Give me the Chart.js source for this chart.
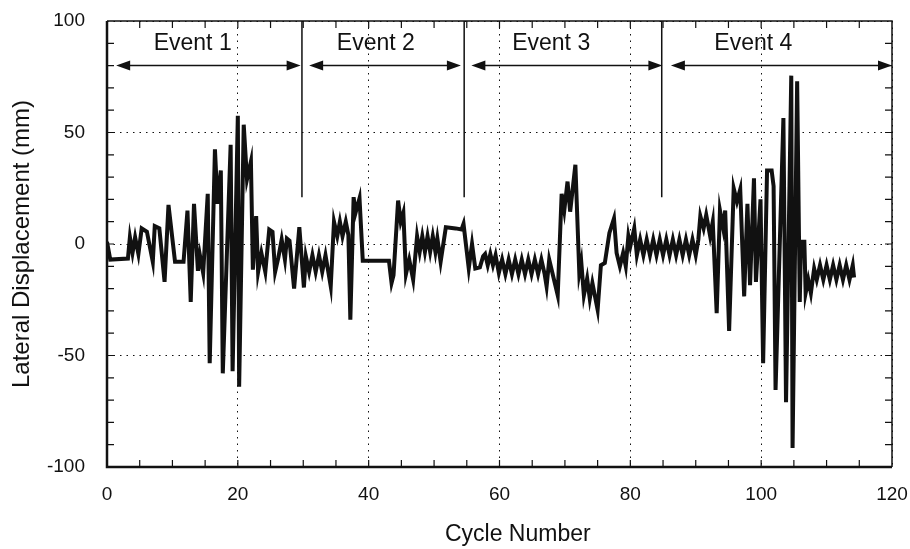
<!DOCTYPE html>
<html>
<head>
<meta charset="utf-8">
<script src="https://cdn.jsdelivr.net/npm/chart.js@4.4.1/dist/chart.umd.min.js"></script>
<style>
  html, body { margin: 0; padding: 0; background: #ffffff; }
  #wrap { width: 910px; height: 549px; position: relative; }
</style>
</head>
<body>
<div id="wrap"><canvas id="chart" width="910" height="549"></canvas></div>
<script>
// Lateral displacement history (cycle number, mm)
const cycleNumber = [
  0, 0.5, 3.2, 3.5, 3.9, 4.3, 4.8, 5.3, 6.1, 7.0, 7.3, 8.0, 8.8, 9.4, 10.4, 11.7, 12.3, 12.8, 13.3, 13.9,
  14.2, 14.7, 15.4, 15.7, 16.5, 16.9, 17.4, 17.7, 18.9, 19.2, 20.0, 20.2, 20.9, 21.4, 22.0, 22.3, 22.8, 23.1, 23.6, 24.2,
  24.8, 25.3, 25.7, 26.2, 26.7, 27.2, 27.5, 27.9, 28.6, 29.4,
  30.1, 30.4, 30.9, 31.4, 31.9, 32.4, 32.9, 33.4, 33.8, 34.2, 34.7, 35.2, 35.6, 36.0, 36.5, 36.9, 37.2, 37.7, 38.0, 38.6,
  39.1, 43.1, 43.5, 43.8, 44.5, 44.9, 45.3, 45.7, 46.2, 46.8, 47.4, 47.8, 48.2, 48.6, 49.0, 49.4, 49.8, 50.2, 50.5, 51.0,
  51.8, 53.3, 54.2, 54.5, 55.0, 55.3, 55.8, 56.3, 57.0,
  57.5, 57.8, 58.2, 58.6, 59.0, 59.4, 59.9, 60.4, 60.9, 61.4, 61.9, 62.4, 62.9, 63.4, 63.9, 64.4, 64.9, 65.4, 65.9, 66.4,
  66.9, 67.2, 67.6, 68.9, 69.5, 69.9, 70.4, 70.8, 71.6, 72.2, 72.5, 72.9, 73.4, 73.8, 74.2, 75.0, 75.5, 76.1, 76.8, 77.5,
  77.9, 78.4, 78.9, 79.3, 79.7, 80.0, 80.6, 81.0, 81.5, 82.0, 82.5, 83.0, 83.5, 84.0, 84.5, 85.0, 85.5, 86.0, 86.5, 87.0,
  87.5, 88.0, 88.5, 89.0, 89.5, 90.0,
  90.4, 90.7, 91.2, 91.6, 92.2, 92.6, 93.2, 93.7, 94.2, 94.5, 95.1, 95.8, 96.3, 96.8, 97.4, 97.9, 98.3, 98.9, 99.2, 99.9,
  100.3, 100.9, 101.6, 101.9, 102.2, 103.4, 103.8, 104.6, 104.8, 105.5, 105.9, 106.1, 106.6, 106.8, 107.2, 107.6, 108.1, 108.5, 109.0, 109.5,
  110.0, 110.5, 111.0, 111.5, 112.0, 112.5, 113.0, 113.5, 114.0, 114.2
];
const lateralDisp = [
  1, -7, -6.5, 3, -4, 3, -4.5, 7, 5.5, -8, 8, 7, -17, 17.5, -8, -8, 15, -26, 18, -12,
  -5, -13, 22.5, -53.5, 42.5, 18, 33, -58, 44.5, -57, 57.5, -64, 53.5, 29, 37, -11.5, 12.5, -12.5, -4, -12.5,
  6.5, 5.5, -12.5, -6, 2, -7, 2.5, 1.5, -20, 7.5,
  -19.5, -5.5, -12.5, -5, -12.5, -5, -12.5, -5, -12, -19, 10, 3.5, 10, 3.5, 10, 4, -34, 21, 14, 20.5,
  -7.5, -7.5, -17.5, -14, 19.5, 10, 14, -13.5, -7, -16, 3.5, -3.5, 3.5, -3.5, 3.5, -3.5, 3.5, -3.5, 2.5, -8,
  7.5, 7, 6.5, 9, -3.5, -11, 0, -11, -10.5,
  -5.5, -4.5, -9.5, -4.5, -9.5, -5, -13, -7, -13.5, -7, -13.5, -7, -13.5, -7, -13.5, -7, -13.5, -7, -13.5, -7,
  -13.5, -19, -7, -23, 22.5, 15, 28, 14.5, 35.5, -13, -8, -23, -15.5, -24.5, -17.5, -29.5, -9.5, -8.5, 5, 11.5,
  -4, -10, -4, -10, 3.5, -1, 7, -5, 2, -5, 2, -5, 2, -5, 2, -5, 2, -5, 2, -5,
  2, -5, 2, -5, 2, -5,
  2, 12.5, 7, 13, 3.5, 10, -31, 15, 7, 15, -39, 25, 19, 24.5, -23.5, 18, -18.5, 29.5, -17, 20,
  -53.5, 33, 33, 26, -65.5, 56.5, -71, 75.5, -91.5, 73, -26, 1, 1, -22, -16, -22, -11, -16, -9.5, -16,
  -9.5, -16, -9.5, -16, -9.5, -16, -9.5, -16, -9.5, -15
];

// Event annotations (cycle number units)
const eventLabels = ['Event 1', 'Event 2', 'Event 3', 'Event 4'];
const eventLabelX = [13.1, 41.1, 67.9, 98.8];
const eventArrowFrom = [1.4, 30.9, 55.7, 86.2];
const eventArrowTo = [29.6, 54.1, 84.9, 120];
const eventBounds = [29.8, 54.6, 84.8];
const boundBottom = 21;     // mm, lower end of separator lines
const arrowLevel = 80;      // mm
const labelLevel = 90;      // mm
const xTitleCentre = 62.8;  // x title sits a bit right of the middle in the original

const xTickLabels = [0, 20, 40, 60, 80, 100, 120];
const yTickLabels = [-100, -50, 0, 50, 100];

const FONT = "'Liberation Sans', Arial, sans-serif";
const INK = '#111111';

const points = cycleNumber.map((c, i) => ({ x: c, y: lateralDisp[i] }));

// frame, minor ticks, event markers, x title
const overlay = {
  id: 'overlay',
  afterDatasetsDraw(chart) {
    const { ctx, chartArea: a, scales: { x, y } } = chart;
    ctx.save();
    ctx.strokeStyle = INK;
    ctx.fillStyle = INK;

    // minor ticks, pointing inward
    ctx.lineWidth = 1.2;
    ctx.beginPath();
    for (let v = 5; v < 120; v += 5) {
      const px = x.getPixelForValue(v);
      ctx.moveTo(px, a.bottom); ctx.lineTo(px, a.bottom - 7);
      ctx.moveTo(px, a.top); ctx.lineTo(px, a.top + 7);
    }
    for (let v = -90; v < 100; v += 10) {
      const py = y.getPixelForValue(v);
      ctx.moveTo(a.left, py); ctx.lineTo(a.left + 7, py);
      ctx.moveTo(a.right, py); ctx.lineTo(a.right - 7, py);
    }
    ctx.stroke();

    // frame
    ctx.lineWidth = 1.5;
    ctx.beginPath();
    ctx.moveTo(a.left, a.top); ctx.lineTo(a.right, a.top); ctx.lineTo(a.right, a.bottom);
    ctx.stroke();
    ctx.lineWidth = 2.5;
    ctx.beginPath();
    ctx.moveTo(a.left, a.top); ctx.lineTo(a.left, a.bottom); ctx.lineTo(a.right, a.bottom);
    ctx.stroke();

    // separators between events
    ctx.lineWidth = 1.5;
    ctx.beginPath();
    eventBounds.forEach(b => {
      const px = x.getPixelForValue(b);
      ctx.moveTo(px, y.getPixelForValue(100));
      ctx.lineTo(px, y.getPixelForValue(boundBottom));
    });
    ctx.stroke();

    // double-headed arrows
    const ay = y.getPixelForValue(arrowLevel);
    const head = 14, half = 5;
    eventArrowFrom.forEach((f, i) => {
      const x1 = x.getPixelForValue(f);
      const x2 = x.getPixelForValue(eventArrowTo[i]);
      ctx.lineWidth = 1.5;
      ctx.beginPath();
      ctx.moveTo(x1 + head - 2, ay); ctx.lineTo(x2 - head + 2, ay);
      ctx.stroke();
      ctx.beginPath();
      ctx.moveTo(x1, ay); ctx.lineTo(x1 + head, ay - half); ctx.lineTo(x1 + head, ay + half);
      ctx.closePath();
      ctx.moveTo(x2, ay); ctx.lineTo(x2 - head, ay - half); ctx.lineTo(x2 - head, ay + half);
      ctx.closePath();
      ctx.fill();
    });

    // labels
    ctx.font = '23px ' + FONT;
    ctx.textAlign = 'center';
    ctx.textBaseline = 'middle';
    eventLabels.forEach((t, i) => {
      ctx.fillText(t, x.getPixelForValue(eventLabelX[i]), y.getPixelForValue(labelLevel));
    });

    // x axis title
    ctx.fillText('Cycle Number', x.getPixelForValue(xTitleCentre), chart.height - 14);
    ctx.restore();
  }
};

new Chart(document.getElementById('chart'), {
  type: 'line',
  data: {
    datasets: [{
      data: points,
      borderColor: INK,
      borderWidth: 4,
      pointRadius: 0,
      tension: 0,
      fill: false
    }]
  },
  options: {
    responsive: false,
    animation: false,
    events: [],
    layout: { padding: { left: 0, right: 18, top: 21, bottom: 0 } },
    plugins: { legend: { display: false }, tooltip: { enabled: false } },
    scales: {
      x: {
        type: 'linear',
        min: 0, max: 120,
        afterFit: s => { s.height = 82; s.paddingLeft = 0; s.paddingRight = 0; },
        afterBuildTicks: s => { s.ticks = xTickLabels.map(v => ({ value: v })); },
        ticks: { color: INK, font: { family: FONT, size: 19 }, padding: 16, maxRotation: 0 },
        grid: { color: INK, lineWidth: 1, drawTicks: false },
        border: { display: false, dash: [1.5, 5] }
      },
      y: {
        min: -100, max: 100,
        afterFit: s => { s.width = 107; s.paddingTop = 0; s.paddingBottom = 0; },
        afterBuildTicks: s => { s.ticks = yTickLabels.map(v => ({ value: v })); },
        ticks: { color: INK, font: { family: FONT, size: 19 }, padding: 22 },
        grid: { color: INK, lineWidth: 1, drawTicks: false },
        border: { display: false, dash: [1.5, 5] },
        title: { display: true, text: 'Lateral Displacement (mm)', color: INK, font: { family: FONT, size: 24 }, padding: { top: 8, bottom: 0 } }
      }
    }
  },
  plugins: [overlay]
});
</script>
</body>
</html>
